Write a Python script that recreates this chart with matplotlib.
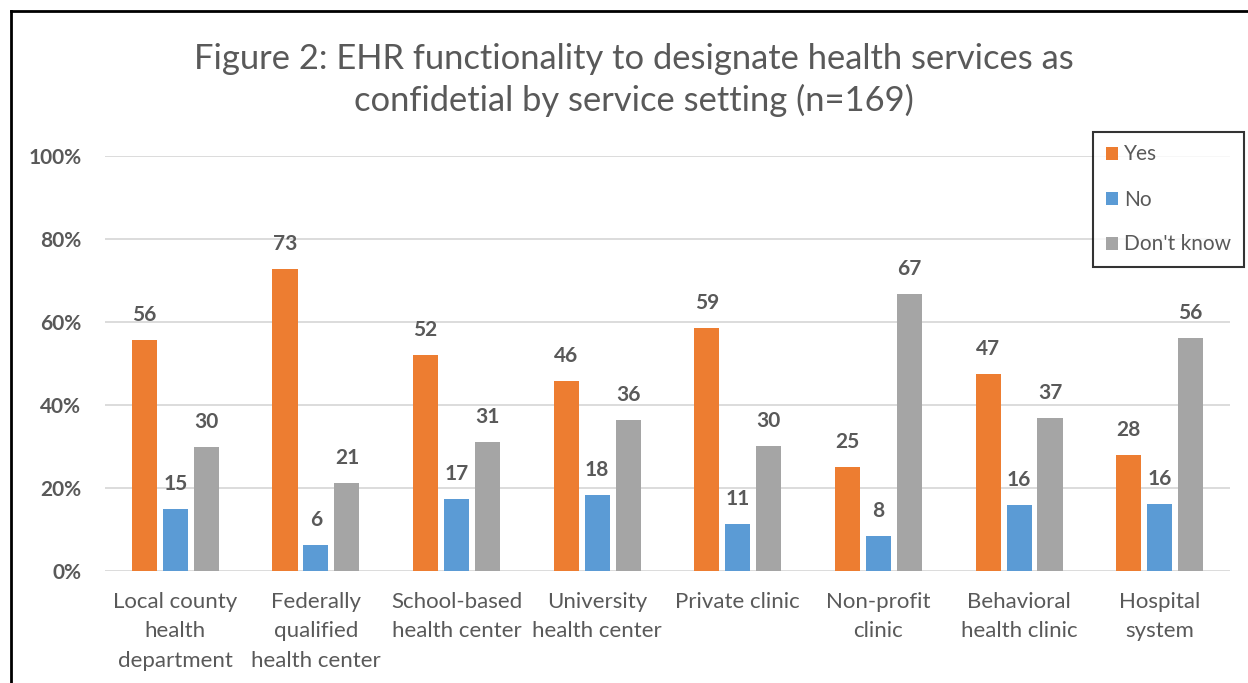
import matplotlib
matplotlib.use("Agg")
import matplotlib.pyplot as plt
import numpy as np
from matplotlib.lines import Line2D

categories = ["Local county\nhealth\ndepartment", "Federally\nqualified\nhealth center",
              "School-based\nhealth center", "University\nhealth center", "Private clinic",
              "Non-profit\nclinic", "Behavioral\nhealth clinic", "Hospital\nsystem"]
series_names = ["Yes", "No", "Don't know"]
yes = [55.7, 72.8, 52.0, 45.8, 58.6, 25.1, 47.5, 28.0]
no = [14.9, 6.3, 17.3, 18.3, 11.3, 8.4, 15.9, 16.1]
dont_know = [29.9, 21.2, 31.1, 36.4, 30.1, 66.7, 36.9, 56.1]
yes_labels = [56, 73, 52, 46, 59, 25, 47, 28]
no_labels = [15, 6, 17, 18, 11, 8, 16, 16]
dk_labels = [30, 21, 31, 36, 30, 67, 37, 56]
yticks = [0, 20, 40, 60, 80, 100]
ytick_labels = ["0%", "20%", "40%", "60%", "80%", "100%"]

colors = ["#ED7D31", "#5B9BD5", "#A5A5A5"]
txt = "#595959"
plt.rcParams['font.family'] = ['Lato', 'DejaVu Sans']

fig = plt.figure(figsize=(12.48, 6.83), dpi=100)
ax = fig.add_axes([105/1248, 1-571/683, (1230-105)/1248, (571-156)/683])

x = np.arange(len(categories))
w = 0.178
step = 0.22
data = [yes, no, dont_know]
labels = [yes_labels, no_labels, dk_labels]
for i, (vals, lab) in enumerate(zip(data, labels)):
    pos = x + (i - 1) * step
    ax.bar(pos, vals, width=w, color=colors[i], label=series_names[i], zorder=3)
    for p, v, l in zip(pos, vals, lab):
        ax.text(p, v + 6.0, str(l), ha='center', va='center', fontsize=15,
                fontweight='bold', color=txt)

ax.set_xlim(-0.5, 7.5)
ax.set_ylim(0, 100)
ax.set_yticks(yticks)
ax.set_yticklabels(ytick_labels, fontsize=15, fontweight='bold', color=txt)
ax.set_xticks(x)
ax.set_xticklabels(categories, fontsize=16, color=txt, linespacing=1.6)
ax.tick_params(axis='both', length=0)
ax.tick_params(axis='y', pad=17)
ax.tick_params(axis='x', pad=15)
ax.grid(axis='y', color='#D9D9D9', linewidth=1.3, zorder=0)
for s in ax.spines.values():
    s.set_visible(False)

fig.text(634/1248, 1-80/683, "Figure 2: EHR functionality to designate health services as\nconfidetial by service setting (n=169)",
         ha='center', va='center', fontsize=24.8, color=txt, linespacing=1.35)

leg = ax.legend(loc='upper left', bbox_to_anchor=((1093-105)/1125, (571-132)/415),
                fontsize=15, frameon=True, fancybox=False, edgecolor='black',
                handlelength=0.6, handleheight=0.6, handletextpad=0.3,
                labelspacing=1.2, borderpad=0.6, borderaxespad=0, labelcolor=txt)
leg.get_frame().set_linewidth(1.5)

# outer frame lines (left and top)
fig.add_artist(Line2D([11/1248, 11/1248], [0, 1-11/683], color='black', lw=2, transform=fig.transFigure))
fig.add_artist(Line2D([11/1248, 1], [1-11/683, 1-11/683], color='black', lw=2, transform=fig.transFigure))

fig.savefig("out.png", dpi=100)
